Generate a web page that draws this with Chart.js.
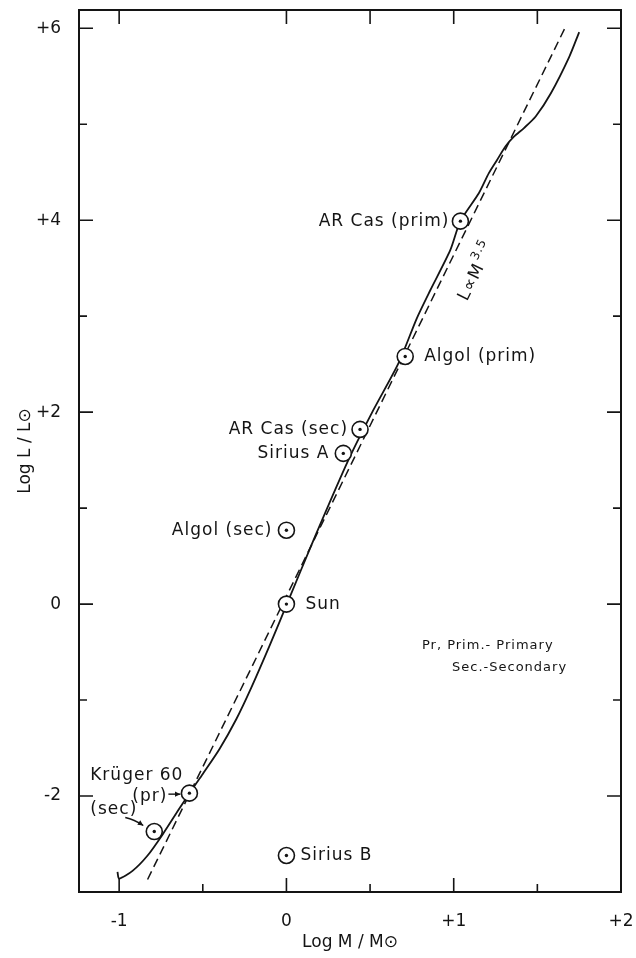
<!DOCTYPE html>
<html>
<head>
<meta charset="utf-8">
<title>Mass-luminosity relation</title>
<script src="https://cdn.jsdelivr.net/npm/chart.js@4/dist/chart.umd.min.js"></script>
<style>
  body { margin: 0; background: #fff; }
  canvas { display: block; }
</style>
</head>
<body>
<canvas id="grafica" width="636" height="958"></canvas>
<script>
// stars marked with the sun symbol
const starNames = ['AR Cas (prim)', 'Algol (prim)', 'AR Cas (sec)', 'Sirius A', 'Algol (sec)', 'Sun', 'Krüger 60 (pr)', 'Krüger 60 (sec)', 'Sirius B'];
const starLogM = [1.04, 0.71, 0.44, 0.34, 0.0, 0.0, -0.58, -0.79, 0.0];
const starLogL = [3.99, 2.58, 1.82, 1.57, 0.77, 0.0, -1.97, -2.37, -2.62];

// observed mass-luminosity curve (solid)
const curveLogM = [-1.01, -1.0, -0.92, -0.83, -0.74, -0.64, -0.56, -0.5, -0.4, -0.3, -0.21, -0.1, 0.01, 0.17, 0.37, 0.51, 0.67, 0.78, 0.86, 0.98, 1.04, 1.15, 1.21, 1.26, 1.31, 1.36, 1.42, 1.49, 1.58, 1.69, 1.75];
const curveLogL = [-2.79, -2.86, -2.78, -2.62, -2.4, -2.13, -1.92, -1.77, -1.51, -1.2, -0.87, -0.43, 0.03, 0.7, 1.5, 1.99, 2.51, 2.98, 3.27, 3.69, 3.99, 4.28, 4.49, 4.63, 4.77, 4.87, 4.96, 5.08, 5.32, 5.7, 5.96];

// L ~ M^3.5 line (dashed)
const powerLogM = [-0.83, 1.67];
const powerLogL = [-2.87, 6.02];

// tick labels
const xTicks = [-1, 0, 1, 2];
const xTickLabels = ['-1', '0', '+1', '+2'];
const yTicks = [-2, 0, 2, 4, 6];
const yTickLabels = ['-2', '0', '+2', '+4', '+6'];

const ink = '#141414';
const fuente = "'DejaVu Sans', sans-serif";

const stars = starLogM.map((m, i) => ({ x: m, y: starLogL[i] }));
const curve = curveLogM.map((m, i) => ({ x: m, y: curveLogL[i] }));
const power = powerLogM.map((m, i) => ({ x: m, y: powerLogL[i] }));

// where each name goes next to its symbol (pixels)
const labelPos = {
  'AR Cas (prim)': { text: 'AR Cas (prim)', align: 'right', dx: -11, dy: 0 },
  'Algol (prim)': { text: 'Algol (prim)', align: 'left', dx: 19, dy: 0 },
  'AR Cas (sec)': { text: 'AR Cas (sec)', align: 'right', dx: -12, dy: 0 },
  'Sirius A': { text: 'Sirius A', align: 'right', dx: -14, dy: 0 },
  'Algol (sec)': { text: 'Algol (sec)', align: 'right', dx: -14, dy: 0 },
  'Sun': { text: 'Sun', align: 'left', dx: 19, dy: 0 },
  'Sirius B': { text: 'Sirius B', align: 'left', dx: 14, dy: 0 },
  'Krüger 60 (pr)': { text: 'Krüger 60', align: 'right', dx: -6, dy: -18 },
  'Krüger 60 (sec)': { text: '(sec)', align: 'right', dx: -17, dy: -22 }
};

function flecha(ctx, x1, y1, cx, cy, x2, y2) {
  ctx.beginPath();
  ctx.moveTo(x1, y1);
  ctx.quadraticCurveTo(cx, cy, x2, y2);
  ctx.stroke();
  const ang = Math.atan2(y2 - cy, x2 - cx);
  ctx.beginPath();
  ctx.moveTo(x2, y2);
  ctx.lineTo(x2 - 6 * Math.cos(ang - 0.45), y2 - 6 * Math.sin(ang - 0.45));
  ctx.lineTo(x2 - 6 * Math.cos(ang + 0.45), y2 - 6 * Math.sin(ang + 0.45));
  ctx.closePath();
  ctx.fill();
}

const dibujo = {
  id: 'dibujo',
  afterDraw(chart) {
    const ctx = chart.ctx;
    const xs = chart.scales.x, ys = chart.scales.y;
    const a = chart.chartArea;
    ctx.save();
    ctx.strokeStyle = ink;
    ctx.fillStyle = ink;

    // frame
    ctx.lineWidth = 2;
    ctx.strokeRect(a.left, a.top, a.right - a.left, a.bottom - a.top);

    // ticks pointing inside, on all four sides
    ctx.lineWidth = 1.6;
    ys.ticks.forEach(t => {
      if (t.value <= ys.min || t.value >= ys.max) return;
      const len = yTicks.includes(t.value) ? 14 : 8;
      const py = ys.getPixelForValue(t.value);
      ctx.beginPath();
      ctx.moveTo(a.left, py); ctx.lineTo(a.left + len, py);
      ctx.moveTo(a.right, py); ctx.lineTo(a.right - len, py);
      ctx.stroke();
    });
    xs.ticks.forEach(t => {
      if (t.value <= xs.min || t.value >= xs.max) return;
      const len = xTicks.includes(t.value) ? 14 : 8;
      const px = xs.getPixelForValue(t.value);
      ctx.beginPath();
      ctx.moveTo(px, a.bottom); ctx.lineTo(px, a.bottom - len);
      // the top edge has no mark at -0.5
      if (t.value !== -0.5) { ctx.moveTo(px, a.top); ctx.lineTo(px, a.top + 14); }
      ctx.stroke();
    });

    // star names
    ctx.font = '17px ' + fuente;
    ctx.letterSpacing = '1px';
    ctx.textBaseline = 'middle';
    starNames.forEach((name, i) => {
      const p = labelPos[name];
      const px = xs.getPixelForValue(starLogM[i]);
      const py = ys.getPixelForValue(starLogL[i]);
      ctx.textAlign = p.align;
      ctx.fillText(p.text, px + p.dx, py + p.dy);
      if (name === 'Krüger 60 (pr)') {
        ctx.fillText('(pr)', px - 22, py + 3);
        ctx.lineWidth = 1.4;
        flecha(ctx, px - 21, py + 1, px - 15, py + 1, px - 9, py + 1);
      }
      if (name === 'Krüger 60 (sec)') {
        ctx.lineWidth = 1.4;
        flecha(ctx, px - 29, py - 14, px - 20, py - 12, px - 11, py - 6);
      }
    });

    // L ~ M^3.5 written along the dashed line
    const p0x = xs.getPixelForValue(powerLogM[0]), p0y = ys.getPixelForValue(powerLogL[0]);
    const p1x = xs.getPixelForValue(powerLogM[1]), p1y = ys.getPixelForValue(powerLogL[1]);
    const ang = Math.atan2(p1y - p0y, p1x - p0x);
    ctx.save();
    ctx.translate(xs.getPixelForValue(1.08), ys.getPixelForValue(3.15));
    ctx.rotate(ang);
    ctx.textAlign = 'left';
    ctx.textBaseline = 'alphabetic';
    ctx.font = '17px ' + fuente;
    ctx.fillText('L∝M', 0, 0);
    const w = ctx.measureText('L∝M').width;
    ctx.font = '12px ' + fuente;
    ctx.fillText('3.5', w + 2, -9);
    ctx.restore();

    // key
    ctx.font = '13px ' + fuente;
    ctx.textAlign = 'left';
    ctx.fillText('Pr, Prim.- Primary', xs.getPixelForValue(0.81), ys.getPixelForValue(-0.43));
    ctx.fillText('Sec.-Secondary', xs.getPixelForValue(0.99), ys.getPixelForValue(-0.66));
    ctx.restore();
  }
};

new Chart(document.getElementById('grafica'), {
  type: 'scatter',
  data: {
    datasets: [
      { data: stars, pointRadius: 1.7, pointBackgroundColor: ink, pointBorderWidth: 0 },
      { data: stars, pointRadius: 8, pointBackgroundColor: '#fff', pointBorderColor: ink, pointBorderWidth: 1.6 },
      { data: curve, showLine: true, borderColor: ink, borderWidth: 1.8, pointRadius: 0, tension: 0.25 },
      { data: power, showLine: true, borderColor: ink, borderWidth: 1.5, borderDash: [9, 5], pointRadius: 0 }
    ]
  },
  options: {
    responsive: false,
    animation: false,
    layout: { padding: { top: 10, right: 15, left: 0, bottom: 0 } },
    plugins: { legend: { display: false }, tooltip: { enabled: false } },
    scales: {
      x: {
        min: -1.24, max: 2,
        afterFit: s => { s.height = 66; s.paddingLeft = 0; s.paddingRight = 0; },
        grid: { display: false, drawTicks: false },
        border: { display: false },
        ticks: {
          stepSize: 0.5, includeBounds: false, autoSkip: false, maxRotation: 0,
          padding: 19, color: ink, font: { family: fuente, size: 17 },
          callback: v => { const i = xTicks.indexOf(v); return i < 0 ? '' : xTickLabels[i]; }
        },
        title: { display: true, text: 'Log M / M⊙', color: ink, font: { family: fuente, size: 17 }, padding: { top: 0, bottom: 5 } }
      },
      y: {
        min: -3, max: 6.19,
        afterFit: s => { s.width = 79; s.paddingTop = 0; s.paddingBottom = 0; },
        grid: { display: false, drawTicks: false },
        border: { display: false },
        ticks: {
          stepSize: 1, includeBounds: false, autoSkip: false,
          padding: 18, color: ink, font: { family: fuente, size: 17 },
          callback: v => { const i = yTicks.indexOf(v); return i < 0 ? '' : yTickLabels[i]; }
        },
        title: { display: true, text: 'Log L / L⊙', color: ink, font: { family: fuente, size: 17 }, padding: { top: 15, bottom: 0 } }
      }
    }
  },
  plugins: [dibujo]
});
</script>
</body>
</html>
